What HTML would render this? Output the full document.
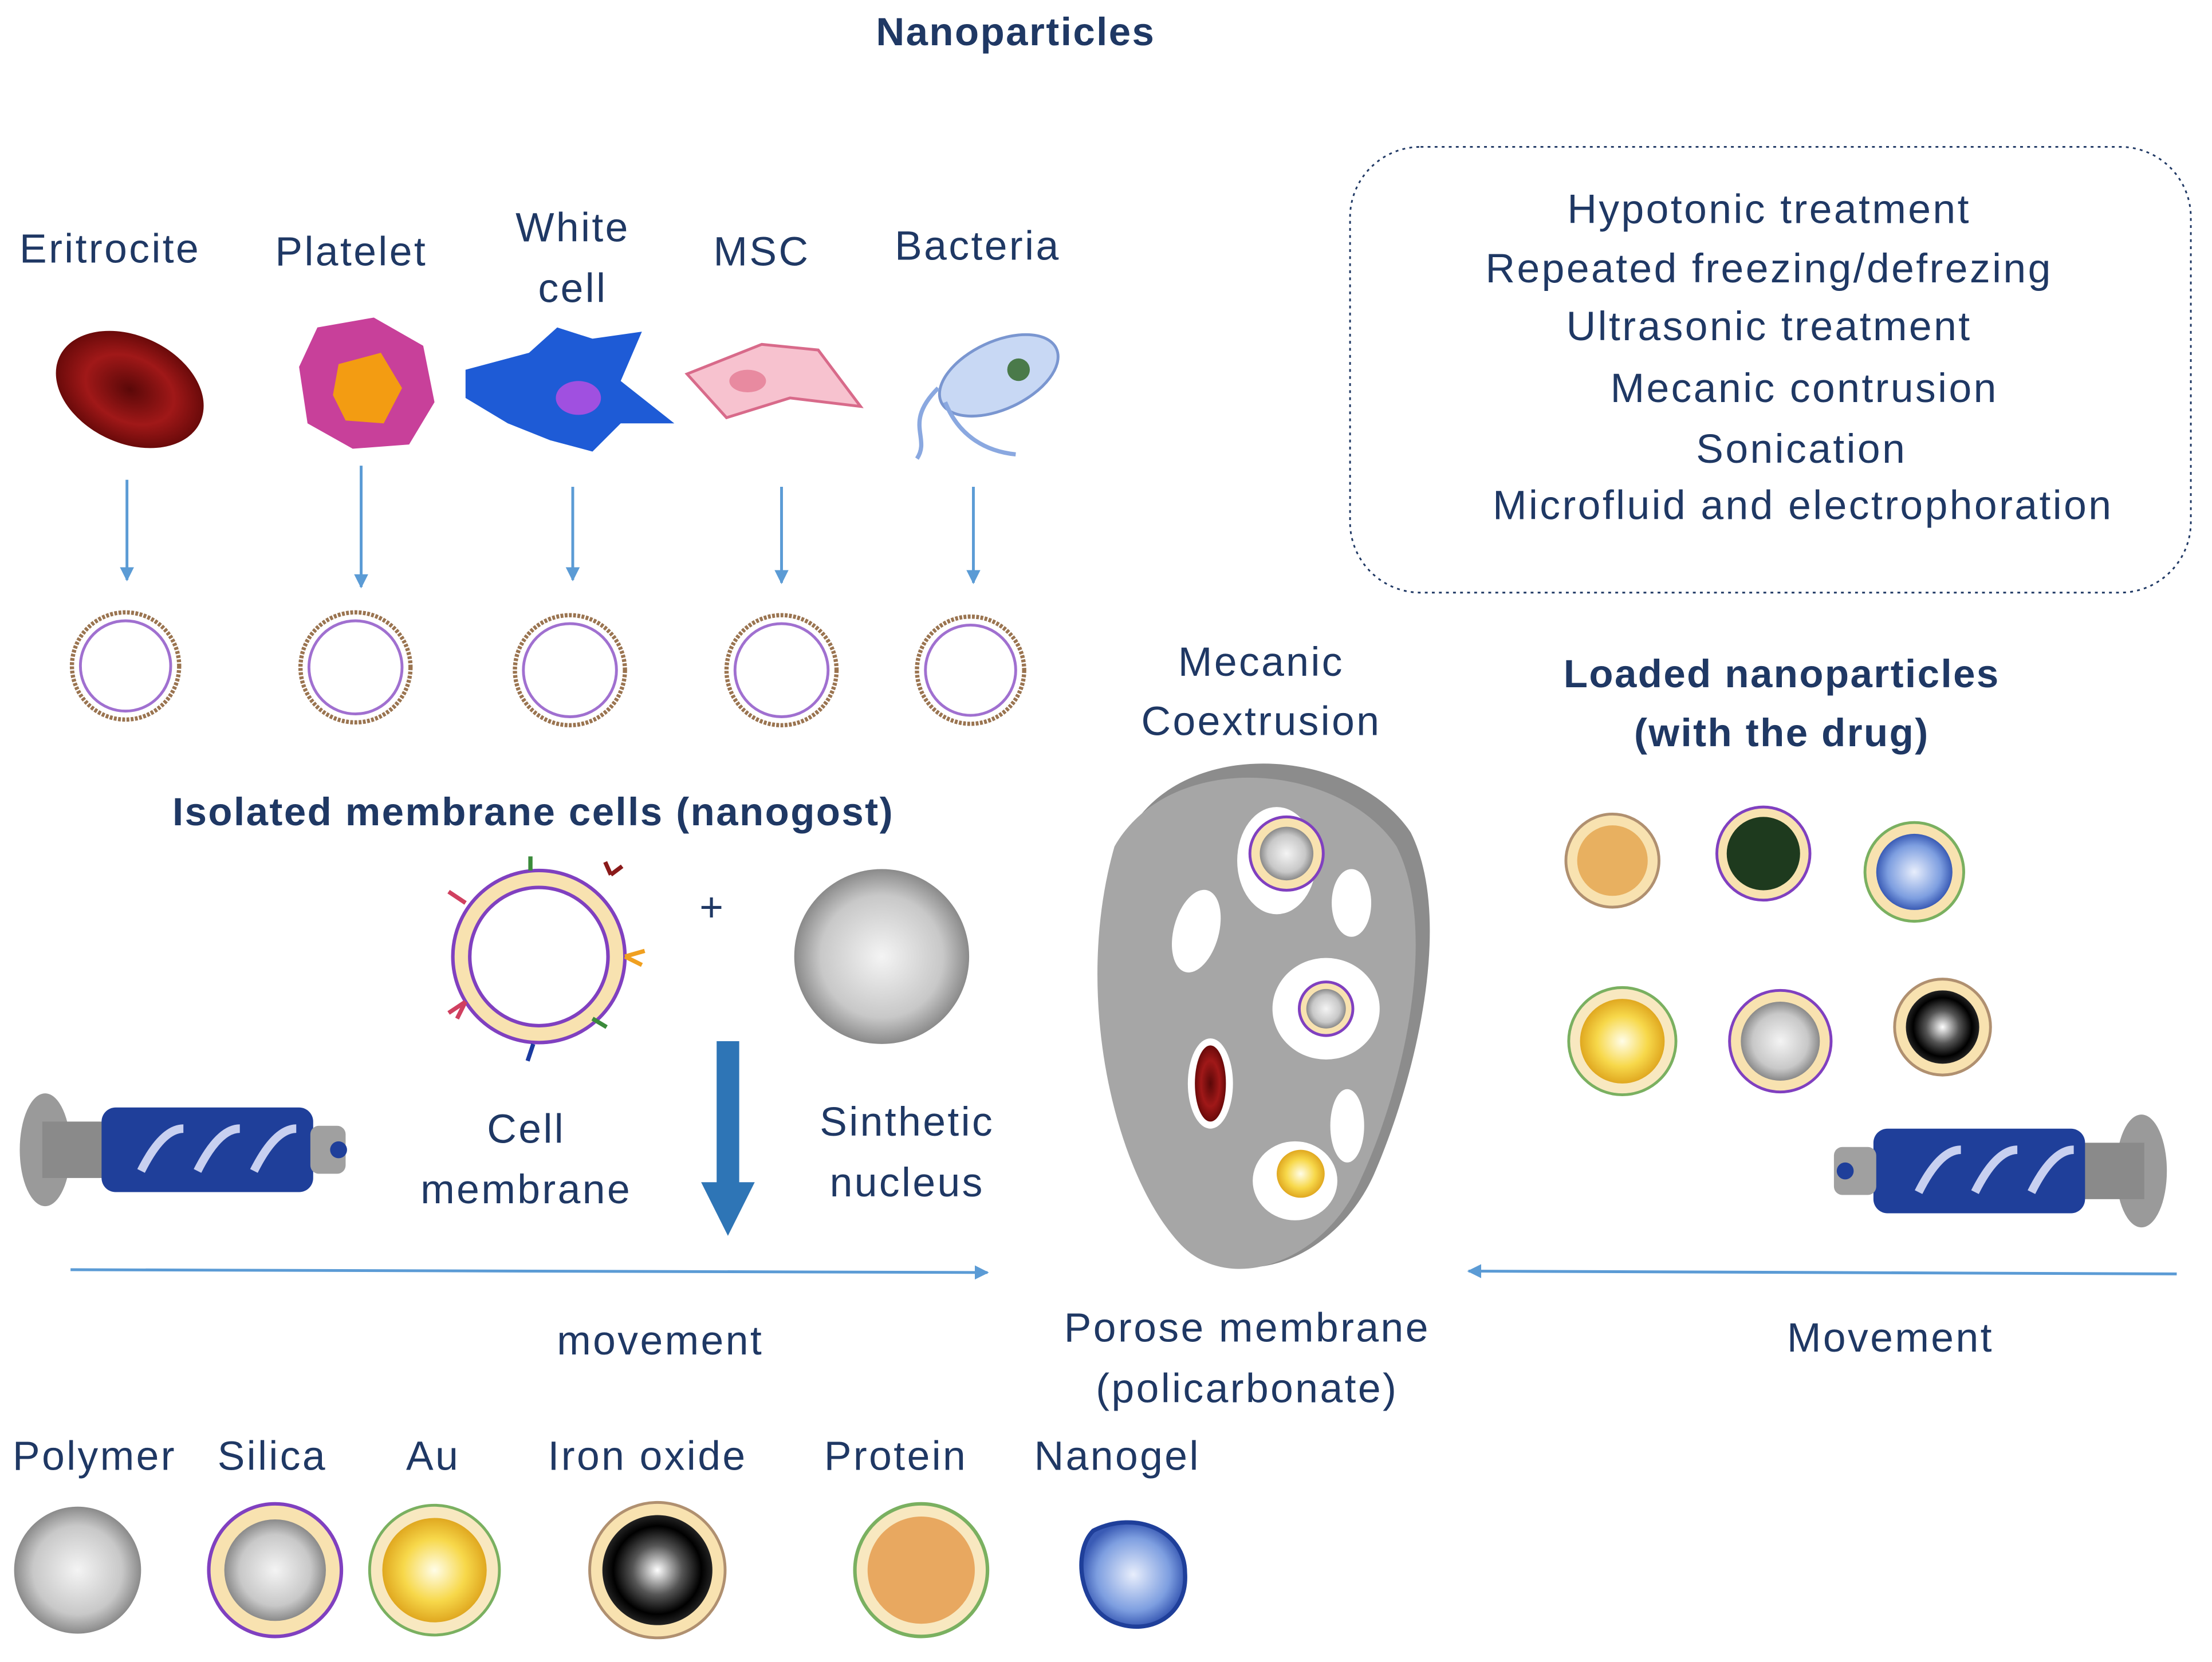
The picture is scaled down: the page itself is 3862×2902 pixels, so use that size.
<!DOCTYPE html>
<html><head><meta charset="utf-8"><style>
html,body{margin:0;padding:0;background:#fff;}
svg{display:block;}
text{font-family:"Liberation Sans",sans-serif;fill:#1f3864;font-size:29px;letter-spacing:1.4px;text-anchor:middle;}
.b{font-weight:bold;font-size:28px;letter-spacing:1px;}
</style></head><body>
<svg width="3862" height="2902" viewBox="0 0 1568 1178" xmlns="http://www.w3.org/2000/svg">
<defs>
<radialGradient id="gr"><stop offset="0" stop-color="#f4f4f4"/><stop offset="0.7" stop-color="#c8c8c8"/><stop offset="1" stop-color="#8a8a8a"/></radialGradient>
<radialGradient id="au"><stop offset="0" stop-color="#fffde8"/><stop offset="0.6" stop-color="#f7d84a"/><stop offset="1" stop-color="#e0a820"/></radialGradient>
<radialGradient id="fe"><stop offset="0" stop-color="#fff"/><stop offset="0.45" stop-color="#555"/><stop offset="0.8" stop-color="#000"/><stop offset="1" stop-color="#222"/></radialGradient>
<radialGradient id="bl"><stop offset="0" stop-color="#e8eefc"/><stop offset="0.7" stop-color="#7d9ee0"/><stop offset="1" stop-color="#3a5bb5"/></radialGradient>
<radialGradient id="rb"><stop offset="0" stop-color="#5a0808"/><stop offset="0.6" stop-color="#a01818"/><stop offset="1" stop-color="#6a0a0a"/></radialGradient>
<marker id="ah" markerWidth="10" markerHeight="10" refX="9" refY="5" orient="auto" markerUnits="userSpaceOnUse"><path d="M0,0 L10,5 L0,10 z" fill="#5b9bd5"/></marker>
</defs>

<text x="720" y="32" class="b">Nanoparticles</text>

<text x="78" y="186">Eritrocite</text>
<text x="249" y="188">Platelet</text>
<text x="406" y="171">White</text>
<text x="406" y="214">cell</text>
<text x="540" y="188">MSC</text>
<text x="693" y="184">Bacteria</text>

<ellipse cx="92" cy="276" rx="55" ry="38" transform="rotate(25 92 276)" fill="url(#rb)"/>
<path d="M225,232 L265,225 L300,245 L308,285 L290,315 L250,318 L218,300 L212,260 z" fill="#c8409a"/>
<path d="M240,258 L270,250 L285,275 L272,300 L245,298 L236,280 z" fill="#f39c12"/>
<path d="M330,262 L375,250 L395,232 L420,240 L455,235 L440,270 L478,300 L440,300 L420,320 L390,312 L360,300 L330,282 z" fill="#1e5bd6"/>
<ellipse cx="410" cy="282" rx="16" ry="12" fill="#a050e0"/>
<path d="M487,265 L540,244 L580,248 L610,288 L560,282 L515,296 z" fill="#f7c2cf" stroke="#d86a8a" stroke-width="2"/>
<ellipse cx="530" cy="270" rx="13" ry="8" fill="#e88aa0"/>
<ellipse cx="708" cy="266" rx="45" ry="24" transform="rotate(-25 708 266)" fill="#c8d8f4" stroke="#7a96d0" stroke-width="2"/>
<circle cx="722" cy="262" r="8" fill="#4a7a4a"/>
<path d="M665,275 C640,300 660,310 650,325 M670,285 C680,310 700,320 720,322" stroke="#8aa8e0" stroke-width="3" fill="none"/>

<g stroke="#5b9bd5" stroke-width="2" marker-end="url(#ah)">
<line x1="90" y1="340" x2="90" y2="411"/>
<line x1="256" y1="330" x2="256" y2="416"/>
<line x1="406" y1="345" x2="406" y2="411"/>
<line x1="554" y1="345" x2="554" y2="413"/>
<line x1="690" y1="345" x2="690" y2="413"/>
</g>

<g fill="none">
<g stroke="#9a7450" stroke-width="3" stroke-dasharray="2,1">
<circle cx="89" cy="472" r="38"/><circle cx="252" cy="473" r="39"/><circle cx="404" cy="475" r="39"/><circle cx="554" cy="475" r="39"/><circle cx="688" cy="475" r="38"/>
</g>
<g stroke="#a070d0" stroke-width="2">
<circle cx="89" cy="472" r="32"/><circle cx="252" cy="473" r="33"/><circle cx="404" cy="475" r="33"/><circle cx="554" cy="475" r="33"/><circle cx="688" cy="475" r="32"/>
</g>
</g>

<rect x="957" y="104" width="596" height="316" rx="50" fill="none" stroke="#1f3864" stroke-width="1.2" stroke-dasharray="2,3"/>
<text x="1254" y="158">Hypotonic treatment</text>
<text x="1254" y="200">Repeated freezing/defrezing</text>
<text x="1254" y="241">Ultrasonic treatment</text>
<text x="1279" y="285">Mecanic contrusion</text>
<text x="1277" y="328">Sonication</text>
<text x="1278" y="368">Microfluid and electrophoration</text>

<text x="378" y="585" class="b">Isolated membrane cells (nanogost)</text>

<circle cx="382" cy="678" r="55" fill="none" stroke="#f8e2b0" stroke-width="12"/>
<circle cx="382" cy="678" r="61" fill="none" stroke="#8040c0" stroke-width="2.5"/>
<circle cx="382" cy="678" r="49" fill="none" stroke="#8040c0" stroke-width="2.5"/>
<g stroke-width="3" fill="none">
<path d="M433,620 l8,-6 m-8,6 l-4,-9" stroke="#8a1a1a"/>
<path d="M443,678 l14,-4 m-14,4 l12,6" stroke="#f0a020"/>
<path d="M330,710 l-12,8 m12,-8 l-6,12" stroke="#d04060"/>
<path d="M378,740 l-4,12" stroke="#1a3aa0"/>
<path d="M420,722 l10,6" stroke="#3a8a3a"/>
<path d="M330,640 l-12,-8" stroke="#d04060"/>
<path d="M376,617 l0,-10" stroke="#3a8a3a"/>
</g>
<text x="505" y="653">+</text>
<circle cx="625" cy="678" r="62" fill="url(#gr)"/>

<path d="M508,738 L524,738 L524,838 L535,838 L516,876 L497,838 L508,838 z" fill="#2e75b6"/>

<text x="373" y="810">Cell</text>
<text x="373" y="853">membrane</text>
<text x="643" y="805">Sinthetic</text>
<text x="643" y="848">nucleus</text>

<g>
<ellipse cx="32" cy="815" rx="18" ry="40" fill="#9a9a9a"/>
<rect x="30" y="795" width="45" height="40" fill="#8a8a8a"/>
<rect x="72" y="785" width="150" height="60" rx="10" fill="#1f3f9a"/>
<path d="M100,830 q15,-30 30,-30 M140,830 q15,-30 30,-30 M180,830 q15,-30 30,-30" stroke="#c8d0f0" stroke-width="6" fill="none"/>
<rect x="220" y="798" width="25" height="34" rx="6" fill="#a0a0a0"/>
<circle cx="240" cy="815" r="6" fill="#1f3f9a"/>
</g>
<g>
<ellipse cx="1518" cy="830" rx="18" ry="40" fill="#9a9a9a"/>
<rect x="1475" y="810" width="45" height="40" fill="#8a8a8a"/>
<rect x="1328" y="800" width="150" height="60" rx="10" fill="#1f3f9a"/>
<path d="M1360,845 q15,-30 30,-30 M1400,845 q15,-30 30,-30 M1440,845 q15,-30 30,-30" stroke="#c8d0f0" stroke-width="6" fill="none"/>
<rect x="1300" y="813" width="30" height="34" rx="6" fill="#a0a0a0"/>
<circle cx="1308" cy="830" r="6" fill="#1f3f9a"/>
</g>

<line x1="50" y1="900" x2="700" y2="902" stroke="#5b9bd5" stroke-width="2" marker-end="url(#ah)"/>
<line x1="1543" y1="903" x2="1041" y2="901" stroke="#5b9bd5" stroke-width="2" marker-end="url(#ah)"/>
<text x="468" y="960">movement</text>
<text x="1340" y="958">Movement</text>

<text x="894" y="479">Mecanic</text>
<text x="894" y="521">Coextrusion</text>
<path d="M800,590 C840,520 960,530 1000,590 C1030,650 1005,760 975,830 C950,890 880,920 845,880 C800,830 770,700 800,590 z" fill="#8c8c8c"/>
<path d="M790,600 C830,530 950,540 990,600 C1020,660 995,770 965,835 C940,895 870,920 835,880 C790,830 760,705 790,600 z" fill="#a6a6a6"/>
<g fill="#fff">
<ellipse cx="848" cy="660" rx="16" ry="30" transform="rotate(15 848 660)"/>
<ellipse cx="958" cy="640" rx="14" ry="24"/>
<ellipse cx="905" cy="610" rx="28" ry="38"/>
<ellipse cx="940" cy="715" rx="38" ry="36"/>
<ellipse cx="955" cy="798" rx="12" ry="26"/>
<ellipse cx="858" cy="768" rx="16" ry="32"/>
<ellipse cx="918" cy="837" rx="30" ry="28"/>
</g>
<ellipse cx="858" cy="768" rx="11" ry="27" fill="url(#rb)"/>
<circle cx="912" cy="605" r="26" fill="#f8e2b0" stroke="#8040c0" stroke-width="2"/><circle cx="912" cy="605" r="19" fill="url(#gr)"/>
<circle cx="940" cy="715" r="19" fill="#f8e2b0" stroke="#8040c0" stroke-width="2"/><circle cx="940" cy="715" r="14" fill="url(#gr)"/>
<circle cx="922" cy="832" r="17" fill="url(#au)"/>
<text x="884" y="951">Porose membrane</text>
<text x="884" y="994">(policarbonate)</text>

<text x="1263" y="487" class="b">Loaded nanoparticles</text>
<text x="1263" y="529" class="b">(with the drug)</text>

<g>
<circle cx="1143" cy="610" r="33" fill="#f8e2b0" stroke="#b09070" stroke-width="2"/><circle cx="1143" cy="610" r="25" fill="#e8b060"/>
<circle cx="1250" cy="605" r="33" fill="#f8e2b0" stroke="#8040c0" stroke-width="2"/><circle cx="1250" cy="605" r="26" fill="#1e3a1e"/>
<circle cx="1357" cy="618" r="35" fill="#f8e2b0" stroke="#7ab060" stroke-width="2"/><circle cx="1357" cy="618" r="27" fill="url(#bl)"/>
<circle cx="1150" cy="738" r="38" fill="#f8e8c0" stroke="#7ab060" stroke-width="2"/><circle cx="1150" cy="738" r="30" fill="url(#au)"/>
<circle cx="1262" cy="738" r="36" fill="#f8e2b0" stroke="#8040c0" stroke-width="2"/><circle cx="1262" cy="738" r="28" fill="url(#gr)"/>
<circle cx="1377" cy="728" r="34" fill="#f8e2b0" stroke="#b09070" stroke-width="2"/><circle cx="1377" cy="728" r="26" fill="url(#fe)"/>
</g>

<text x="67" y="1042">Polymer</text>
<text x="193" y="1042">Silica</text>
<text x="307" y="1042">Au</text>
<text x="459" y="1042">Iron oxide</text>
<text x="635" y="1042">Protein</text>
<text x="792" y="1042">Nanogel</text>
<circle cx="55" cy="1113" r="45" fill="url(#gr)"/>
<circle cx="195" cy="1113" r="47" fill="#f8e2b0" stroke="#8040c0" stroke-width="2.5"/><circle cx="195" cy="1113" r="36" fill="url(#gr)"/>
<circle cx="308" cy="1113" r="46" fill="#f8e8c0" stroke="#7ab060" stroke-width="2"/><circle cx="308" cy="1113" r="37" fill="url(#au)"/>
<circle cx="466" cy="1113" r="48" fill="#f8e2b0" stroke="#b09070" stroke-width="2"/><circle cx="466" cy="1113" r="39" fill="url(#fe)"/>
<circle cx="653" cy="1113" r="47" fill="#f8e8c0" stroke="#7ab060" stroke-width="2.5"/><circle cx="653" cy="1113" r="38" fill="#e8a860"/>
<path d="M775,1085 C805,1070 840,1085 840,1115 C842,1145 815,1160 790,1150 C765,1140 760,1100 775,1085 z" fill="url(#bl)" stroke="#1f3f9a" stroke-width="3"/>
</svg>
</body></html>
